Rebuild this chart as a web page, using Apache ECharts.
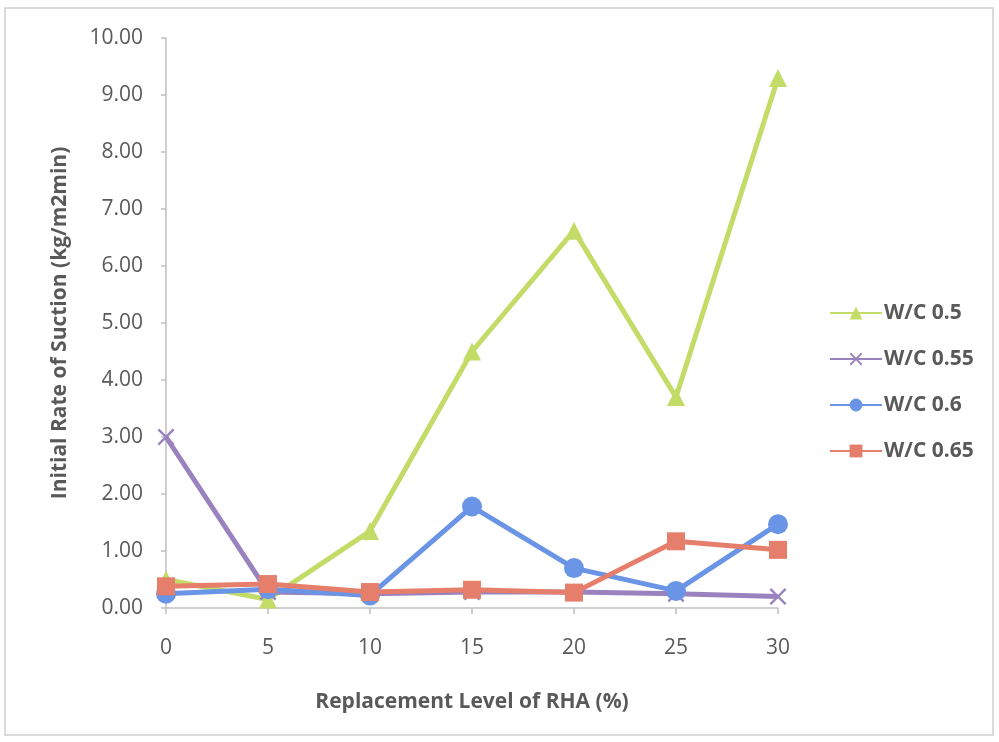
<!DOCTYPE html>
<html>
<head>
<meta charset="utf-8">
<script src="https://cdn.jsdelivr.net/npm/echarts@6/dist/echarts.min.js"></script>
<style>
  html, body { margin: 0; padding: 0; background: #ffffff; }
  #chart { width: 999px; height: 742px; }
</style>
</head>
<body>
<div id="chart"></div>
<script>
// Replacement level of rice husk ash (%)
const replacementLevels = [0, 5, 10, 15, 20, 25, 30];

// Initial rate of suction (kg/m2min) for each water/cement ratio
const wc050 = [0.50, 0.15, 1.35, 4.50, 6.62, 3.70, 9.30];
const wc055 = [3.00, 0.28, 0.25, 0.28, 0.28, 0.25, 0.20];
const wc060 = [0.25, 0.33, 0.22, 1.78, 0.70, 0.30, 1.47];
const wc065 = [0.38, 0.42, 0.28, 0.32, 0.27, 1.17, 1.02];

// Y axis tick range
const yMin = 0;
const yMax = 10;
const yStep = 1;

const seriesNames = ['W/C 0.5', 'W/C 0.55', 'W/C 0.6', 'W/C 0.65'];
const seriesValues = [wc050, wc055, wc060, wc065];
const seriesColors = ['#c3dc68', '#9a82be', '#6a94e6', '#e57f6b'];

// thin "x" mark drawn as a filled outline
const crossSymbol = 'path://M1,0 L5,4 L9,0 L10,1 L6,5 L10,9 L9,10 L5,6 L1,10 L0,9 L4,5 L0,1 Z';
const symbols = ['triangle', crossSymbol, 'circle', 'rect'];
const symbolSizes = [18, 17, 20, 18];

const textColor = '#595959';
const fontFamily = '"Open Sans", "Liberation Sans", sans-serif';

const chart = echarts.init(document.getElementById('chart'), null, { renderer: 'canvas' });

chart.setOption({
  backgroundColor: '#ffffff',
  animation: false,
  graphic: [{
    type: 'rect',
    shape: { x: 5, y: 8, width: 988, height: 727 },
    style: { fill: 'none', stroke: '#d0d0d0', lineWidth: 1.5 },
    silent: true,
    z: -1
  }],
  grid: { left: 166, right: 221, top: 38, bottom: 134, containLabel: false },
  legend: {
    orient: 'vertical',
    left: 824,
    top: 296,
    itemGap: 22,
    itemWidth: 52,
    itemHeight: 16,
    textStyle: { color: textColor, fontFamily, fontWeight: 'bold', fontSize: 21, lineHeight: 24, padding: [0, 0, 0, -3] },
    data: seriesNames
  },
  xAxis: {
    type: 'category',
    data: replacementLevels.map(String),
    boundaryGap: false,
    name: 'Replacement Level of RHA (%)',
    nameLocation: 'middle',
    nameGap: 84,
    nameTextStyle: { color: textColor, fontFamily, fontWeight: 'bold', fontSize: 21 },
    axisLine: { lineStyle: { color: '#c0c0c0', width: 1.5 } },
    axisTick: { show: true, length: 6, alignWithLabel: true, lineStyle: { color: '#c0c0c0', width: 1.5 } },
    axisLabel: { color: textColor, fontFamily, fontSize: 21, margin: 30 },
    splitLine: { show: false }
  },
  yAxis: {
    type: 'value',
    min: yMin,
    max: yMax,
    interval: yStep,
    name: 'Initial Rate of Suction (kg/m2min)',
    nameLocation: 'middle',
    nameGap: 95,
    nameRotate: 90,
    nameTextStyle: { color: textColor, fontFamily, fontWeight: 'bold', fontSize: 21 },
    axisLine: { show: true, lineStyle: { color: '#c0c0c0', width: 1.5 } },
    axisTick: { show: true, length: 5, lineStyle: { color: '#c0c0c0', width: 1.5 } },
    axisLabel: { color: textColor, fontFamily, fontSize: 21, margin: 23, formatter: v => v.toFixed(2) },
    splitLine: { show: false }
  },
  series: seriesNames.map((name, i) => ({
    name,
    type: 'line',
    data: seriesValues[i],
    symbol: symbols[i],
    symbolSize: symbolSizes[i],
    showAllSymbol: true,
    color: seriesColors[i],
    lineStyle: { width: 5, color: seriesColors[i] },
    itemStyle: { color: seriesColors[i] },
    z: 2 + i
  }))
});
</script>
</body>
</html>
